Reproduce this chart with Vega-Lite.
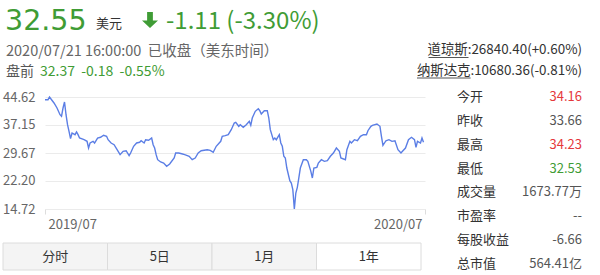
{
  "$schema": "https://vega.github.io/schema/vega-lite/v6.json",
  "width": 600,
  "height": 275,
  "autosize": "none",
  "padding": 0,
  "background": "white",
  "config": {"view": {"stroke": null}, "font": "Noto Sans CJK SC"},
  "datasets": {
    "quote": [{"price": "32.55", "currency": "美元", "change": "-1.11 (-3.30%)", "time": "2020/07/21 16:00:00\u00a0 已收盘（美东时间）", "preLabel": "盘前", "pre": "32.37\u00a0 -0.18\u00a0 -0.55%"}],
    "indices": [{"index": "道琼斯", "label": "道琼斯:26840.40(+0.60%)"}, {"index": "纳斯达克", "label": "纳斯达克:10680.36(-0.81%)"}],
    "stats": [
      {"name": "今开", "value": "34.16", "trend": "up"},
      {"name": "昨收", "value": "33.66", "trend": "flat"},
      {"name": "最高", "value": "34.23", "trend": "up"},
      {"name": "最低", "value": "32.53", "trend": "down"},
      {"name": "成交量", "value": "1673.77万", "trend": "flat"},
      {"name": "市盈率", "value": "--", "trend": "flat"},
      {"name": "每股收益", "value": "-6.66", "trend": "flat"},
      {"name": "总市值", "value": "564.41亿", "trend": "flat"}
    ],
    "tabs": [
      {"tab": "分时", "state": "normal"},
      {"tab": "5日", "state": "normal"},
      {"tab": "1月", "state": "normal"},
      {"tab": "1年", "state": "active"}
    ],
    "prices": [
      {"t":0,"close":43.90},{"t":2,"close":43.90},{"t":3,"close":44.62},{"t":6,"close":43.02},{"t":8,"close":41.68},{"t":10,"close":39.89},{"t":11,"close":39.47},{"t":12,"close":41.68},{"t":13,"close":43.28},{"t":14,"close":39.89},{"t":15,"close":37.22},{"t":16,"close":35.46},{"t":17,"close":33.49},{"t":18,"close":35.01},{"t":20,"close":34.56},{"t":21,"close":35.28},{"t":22,"close":34.56},{"t":23,"close":33.67},{"t":26,"close":33.22},{"t":28,"close":32.79},{"t":29,"close":31.00},{"t":30,"close":32.34},{"t":32,"close":32.79},{"t":33,"close":32.34},{"t":35,"close":33.67},{"t":37,"close":33.86},{"t":39,"close":34.40},{"t":41,"close":34.13},{"t":42,"close":33.22},{"t":44,"close":32.34},{"t":46,"close":31.89},{"t":48,"close":30.55},{"t":50,"close":29.22},{"t":52,"close":30.12},{"t":54,"close":30.28},{"t":56,"close":28.95},{"t":57,"close":29.67},{"t":59,"close":31.46},{"t":61,"close":32.34},{"t":63,"close":32.53},{"t":64,"close":32.95},{"t":66,"close":32.34},{"t":67,"close":33.22},{"t":69,"close":33.06},{"t":71,"close":33.67},{"t":72,"close":31.89},{"t":73,"close":31.00},{"t":74,"close":29.22},{"t":75,"close":27.88},{"t":77,"close":27.27},{"t":79,"close":27.00},{"t":81,"close":26.12},{"t":83,"close":26.73},{"t":86,"close":28.33},{"t":87,"close":29.67},{"t":89,"close":29.67},{"t":91,"close":29.48},{"t":93,"close":29.22},{"t":96,"close":28.79},{"t":98,"close":27.88},{"t":100,"close":28.33},{"t":102,"close":29.67},{"t":104,"close":30.28},{"t":108,"close":30.55},{"t":110,"close":30.39},{"t":112,"close":29.86},{"t":114,"close":31.46},{"t":117,"close":32.79},{"t":118,"close":34.13},{"t":120,"close":34.29},{"t":122,"close":34.56},{"t":124,"close":35.89},{"t":126,"close":37.68},{"t":127,"close":37.87},{"t":129,"close":36.80},{"t":130,"close":37.23},{"t":132,"close":36.53},{"t":134,"close":37.23},{"t":136,"close":38.13},{"t":137,"close":37.06},{"t":138,"close":39.01},{"t":140,"close":40.80},{"t":142,"close":41.50},{"t":143,"close":40.96},{"t":144,"close":40.08},{"t":146,"close":40.96},{"t":148,"close":40.96},{"t":149,"close":39.01},{"t":150,"close":35.89},{"t":152,"close":33.22},{"t":153,"close":33.67},{"t":154,"close":33.22},{"t":156,"close":34.56},{"t":157,"close":32.34},{"t":158,"close":31.46},{"t":159,"close":28.79},{"t":160,"close":28.33},{"t":161,"close":25.66},{"t":163,"close":22.27},{"t":164,"close":21.66},{"t":165,"close":19.87},{"t":166,"close":14.72},{"t":167,"close":18.99},{"t":168,"close":20.51},{"t":169,"close":23.00},{"t":170,"close":25.66},{"t":172,"close":27.88},{"t":174,"close":27.88},{"t":175,"close":27.45},{"t":177,"close":24.78},{"t":178,"close":23.00},{"t":179,"close":25.66},{"t":181,"close":25.85},{"t":182,"close":27.00},{"t":184,"close":27.88},{"t":186,"close":27.45},{"t":188,"close":27.61},{"t":190,"close":28.79},{"t":192,"close":29.67},{"t":194,"close":31.00},{"t":196,"close":30.12},{"t":197,"close":28.33},{"t":200,"close":27.88},{"t":201,"close":30.55},{"t":203,"close":32.79},{"t":204,"close":32.34},{"t":206,"close":33.22},{"t":208,"close":32.95},{"t":210,"close":34.13},{"t":212,"close":34.56},{"t":214,"close":34.56},{"t":215,"close":35.62},{"t":217,"close":36.80},{"t":218,"close":37.06},{"t":221,"close":37.41},{"t":223,"close":36.80},{"t":224,"close":34.13},{"t":225,"close":31.73},{"t":227,"close":32.95},{"t":229,"close":33.22},{"t":231,"close":32.79},{"t":233,"close":32.95},{"t":235,"close":30.55},{"t":237,"close":29.67},{"t":238,"close":30.12},{"t":240,"close":31.00},{"t":242,"close":33.22},{"t":244,"close":33.86},{"t":246,"close":33.22},{"t":247,"close":31.19},{"t":248,"close":32.79},{"t":250,"close":32.34},{"t":251,"close":33.66},{"t":252,"close":32.55}
    ]
  },
  "layer": [
    {
      "data": {"name": "tabs"},
      "mark": {"type": "rect", "stroke": "#dcdcdc", "strokeWidth": 1},
      "encoding": {
        "x": {"field": "tab", "type": "nominal", "sort": null, "axis": null, "scale": {"type": "band", "domain": ["分时", "5日", "1月", "1年"], "range": [3, 421], "paddingInner": 0, "paddingOuter": 0}},
        "y": {"datum": "tabs", "type": "nominal", "axis": null, "scale": {"type": "band", "domain": ["tabs"], "range": [243, 270], "paddingInner": 0, "paddingOuter": 0}},
        "fill": {"field": "state", "type": "nominal", "legend": null, "scale": {"domain": ["normal", "active"], "range": ["#f4f4f4", "#ffffff"]}}
      }
    },
    {
      "data": {"name": "tabs"},
      "mark": {"type": "text", "fontSize": 13, "color": "#333333", "baseline": "middle", "align": "center"},
      "encoding": {
        "text": {"field": "tab"},
        "x": {"field": "tab", "type": "nominal", "sort": null, "axis": null, "scale": {"type": "point", "domain": ["分时", "5日", "1月", "1年"], "range": [3, 421], "padding": 0.5}},
        "y": {"datum": "tabs", "type": "nominal", "axis": null, "scale": {"type": "point", "domain": ["tabs"], "range": [257, 257], "padding": 0}}
      }
    },
    {
      "data": {"name": "prices"},
      "mark": {"type": "line", "color": "#5b7ee5", "strokeWidth": 1.4},
      "encoding": {
        "x": {"field": "t", "type": "quantitative", "scale": {"domain": [0, 253], "range": [45, 425], "nice": false, "zero": false},
          "axis": {"orient": "bottom", "offset": -66, "values": [0, 253], "labelExpr": "datum.value < 100 ? '2019/07' : '2020/07'", "labelFlush": true, "labelFlushOffset": -3, "grid": false, "domain": false, "ticks": true, "tickSize": 5, "tickColor": "#dddddd", "labelFontSize": 13, "labelColor": "#666666", "labelPadding": 4, "title": null}},
        "y": {"field": "close", "type": "quantitative", "scale": {"domain": [14.72, 44.62], "range": [209, 97], "nice": false, "zero": false},
          "axis": {"orient": "left", "offset": -45, "values": [14.72, 22.2, 29.67, 37.15, 44.62], "format": ".2f", "grid": true, "gridColor": "#ebebeb", "domain": false, "ticks": false, "labelPadding": 10, "labelFontSize": 13, "labelColor": "#666666", "title": null}}
      }
    },
    {
      "data": {"name": "stats"},
      "mark": {"type": "text", "fontSize": 13, "color": "#333333", "align": "left", "baseline": "middle"},
      "encoding": {
        "text": {"field": "name"},
        "x": {"datum": "name", "type": "nominal", "axis": null, "scale": {"type": "point", "domain": ["name", "value"], "range": [457, 582], "padding": 0}},
        "y": {"field": "name", "type": "nominal", "sort": null, "axis": null, "scale": {"type": "point", "domain": ["今开", "昨收", "最高", "最低", "成交量", "市盈率", "每股收益", "总市值"], "range": [97, 264], "padding": 0}}
      }
    },
    {
      "data": {"name": "stats"},
      "mark": {"type": "text", "fontSize": 13, "align": "right", "baseline": "middle"},
      "encoding": {
        "text": {"field": "value"},
        "x": {"datum": "value", "type": "nominal", "axis": null, "scale": {"type": "point", "domain": ["name", "value"], "range": [457, 582], "padding": 0}},
        "y": {"field": "name", "type": "nominal", "sort": null, "axis": null, "scale": {"type": "point", "domain": ["今开", "昨收", "最高", "最低", "成交量", "市盈率", "每股收益", "总市值"], "range": [97, 264], "padding": 0}},
        "color": {"field": "trend", "type": "nominal", "legend": null, "scale": {"domain": ["up", "flat", "down"], "range": ["#e5383b", "#555555", "#3f9c35"]}}
      }
    },
    {
      "data": {"name": "quote"},
      "mark": {"type": "text", "font": "DejaVu Sans", "fontSize": 28.5, "color": "#3f9c35", "align": "left", "baseline": "alphabetic"},
      "encoding": {
        "text": {"field": "price"},
        "x": {"datum": "price", "type": "nominal", "axis": null, "scale": {"type": "point", "domain": ["price"], "range": [5, 5], "padding": 0}},
        "y": {"datum": "price", "type": "nominal", "axis": null, "scale": {"type": "point", "domain": ["price"], "range": [29.5, 29.5], "padding": 0}}
      }
    },
    {
      "data": {"name": "quote"},
      "mark": {"type": "text", "fontSize": 13, "color": "#333333", "align": "left", "baseline": "alphabetic"},
      "encoding": {
        "text": {"field": "currency"},
        "x": {"datum": "currency", "type": "nominal", "axis": null, "scale": {"type": "point", "domain": ["currency"], "range": [96, 96], "padding": 0}},
        "y": {"datum": "currency", "type": "nominal", "axis": null, "scale": {"type": "point", "domain": ["currency"], "range": [28, 28], "padding": 0}}
      }
    },
    {
      "data": {"name": "quote"},
      "mark": {"type": "point", "filled": true, "color": "#3f9c35", "opacity": 1, "size": 256, "shape": "M-0.36,-1L0.36,-1L0.36,0.05L1,0.05L0,1L-1,0.05L-0.36,0.05Z"},
      "encoding": {
        "x": {"datum": "arrow", "type": "nominal", "axis": null, "scale": {"type": "point", "domain": ["arrow"], "range": [150, 150], "padding": 0}},
        "y": {"datum": "arrow", "type": "nominal", "axis": null, "scale": {"type": "point", "domain": ["arrow"], "range": [20, 20], "padding": 0}}
      }
    },
    {
      "data": {"name": "quote"},
      "mark": {"type": "text", "fontSize": 24, "color": "#3f9c35", "align": "left", "baseline": "alphabetic"},
      "encoding": {
        "text": {"field": "change"},
        "x": {"datum": "change", "type": "nominal", "axis": null, "scale": {"type": "point", "domain": ["change"], "range": [166, 166], "padding": 0}},
        "y": {"datum": "change", "type": "nominal", "axis": null, "scale": {"type": "point", "domain": ["change"], "range": [29.3, 29.3], "padding": 0}}
      }
    },
    {
      "data": {"name": "quote"},
      "mark": {"type": "text", "fontSize": 14.5, "color": "#666666", "align": "left", "baseline": "alphabetic"},
      "encoding": {
        "text": {"field": "time"},
        "x": {"datum": "time", "type": "nominal", "axis": null, "scale": {"type": "point", "domain": ["time"], "range": [6, 6], "padding": 0}},
        "y": {"datum": "time", "type": "nominal", "axis": null, "scale": {"type": "point", "domain": ["time"], "range": [55.5, 55.5], "padding": 0}}
      }
    },
    {
      "data": {"name": "quote"},
      "mark": {"type": "text", "fontSize": 14, "color": "#555555", "align": "left", "baseline": "alphabetic"},
      "encoding": {
        "text": {"field": "preLabel"},
        "x": {"datum": "preLabel", "type": "nominal", "axis": null, "scale": {"type": "point", "domain": ["preLabel"], "range": [6, 6], "padding": 0}},
        "y": {"datum": "preLabel", "type": "nominal", "axis": null, "scale": {"type": "point", "domain": ["preLabel"], "range": [76, 76], "padding": 0}}
      }
    },
    {
      "data": {"name": "quote"},
      "mark": {"type": "text", "fontSize": 14, "color": "#3f9c35", "align": "left", "baseline": "alphabetic"},
      "encoding": {
        "text": {"field": "pre"},
        "x": {"datum": "pre", "type": "nominal", "axis": null, "scale": {"type": "point", "domain": ["pre"], "range": [40, 40], "padding": 0}},
        "y": {"datum": "pre", "type": "nominal", "axis": null, "scale": {"type": "point", "domain": ["pre"], "range": [76, 76], "padding": 0}}
      }
    },
    {
      "data": {"name": "indices"},
      "mark": {"type": "text", "fontSize": 13.4, "color": "#333333", "align": "right", "baseline": "middle"},
      "encoding": {
        "text": {"field": "label"},
        "x": {"datum": "indices", "type": "nominal", "axis": null, "scale": {"type": "point", "domain": ["indices"], "range": [582, 582], "padding": 0}},
        "y": {"field": "index", "type": "nominal", "sort": null, "axis": null, "scale": {"type": "point", "domain": ["道琼斯", "纳斯达克"], "range": [50, 70.5], "padding": 0}}
      }
    },
    {
      "data": {"name": "indices"},
      "mark": {"type": "tick", "orient": "horizontal", "thickness": 1, "color": "#555555", "opacity": 1},
      "encoding": {
        "x": {"field": "index", "type": "nominal", "sort": null, "axis": null, "scale": {"type": "point", "domain": ["道琼斯", "纳斯达克"], "range": [448.5, 443.8], "padding": 0}},
        "y": {"field": "index", "type": "nominal", "sort": null, "axis": null, "scale": {"type": "point", "domain": ["道琼斯", "纳斯达克"], "range": [57.5, 78], "padding": 0}},
        "size": {"field": "index", "type": "ordinal", "legend": null, "scale": {"type": "ordinal", "domain": ["道琼斯", "纳斯达克"], "range": [40, 53.6]}}
      }
    }
  ],
  "resolve": {"scale": {"x": "independent", "y": "independent", "color": "independent", "fill": "independent", "size": "independent"}}
}
